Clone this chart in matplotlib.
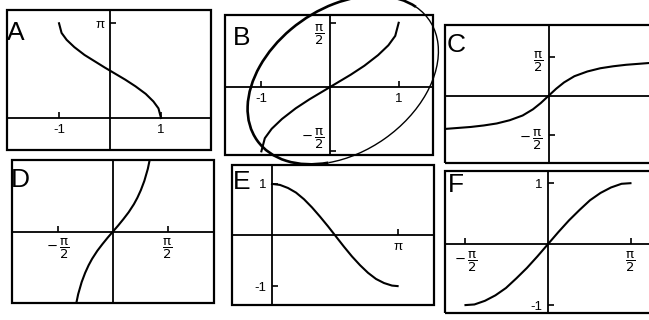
import numpy as np
import matplotlib
matplotlib.use("Agg")
import matplotlib.pyplot as plt
from matplotlib.patches import Rectangle, Arc

plt.rcParams['font.family'] = ['Liberation Sans', 'DejaVu Sans']
plt.rcParams['mathtext.fontset'] = 'dejavusans'

# A: inverse cosine
xa = [-1.0, -0.95, -0.85, -0.7, -0.5, -0.3, -0.1, 0.0, 0.1, 0.3, 0.5, 0.7, 0.85, 0.95, 1.0]
ya = [3.14, 2.82, 2.59, 2.35, 2.09, 1.88, 1.67, 1.57, 1.47, 1.27, 1.05, 0.80, 0.55, 0.32, 0.0]

# B: inverse sine
xb = [-1.0, -0.95, -0.85, -0.7, -0.5, -0.3, -0.1, 0.0, 0.1, 0.3, 0.5, 0.7, 0.85, 0.95, 1.0]
yb = [-1.57, -1.25, -1.02, -0.78, -0.52, -0.30, -0.10, 0.0, 0.10, 0.30, 0.52, 0.78, 1.02, 1.25, 1.57]

# C: inverse tangent
xc = [-4, -3.5, -3, -2.5, -2, -1.5, -1, -0.6, -0.3, 0, 0.3, 0.6, 1, 1.5, 2, 2.5, 3, 3.5, 4]
yc = [-1.33, -1.29, -1.25, -1.19, -1.11, -0.98, -0.79, -0.54, -0.29, 0.0,
      0.29, 0.54, 0.79, 0.98, 1.11, 1.19, 1.25, 1.29, 1.33]

# D: tangent
xd = [-1.06, -1.0, -0.9, -0.8, -0.7, -0.6, -0.45, -0.3, -0.15, 0.0,
      0.15, 0.3, 0.45, 0.6, 0.7, 0.8, 0.9, 1.0, 1.06]
yd = [-1.81, -1.56, -1.26, -1.03, -0.84, -0.68, -0.48, -0.31, -0.15, 0.0,
      0.15, 0.31, 0.48, 0.68, 0.84, 1.03, 1.26, 1.56, 1.81]

# E: cosine
xe = [0, 0.2, 0.4, 0.6, 0.8, 1.0, 1.2, 1.4, 1.57, 1.8, 2.0, 2.2, 2.4, 2.6, 2.8, 3.0, 3.14]
ye = [1.0, 0.98, 0.92, 0.83, 0.70, 0.54, 0.36, 0.17, 0.0, -0.23, -0.42, -0.59,
      -0.74, -0.86, -0.94, -0.99, -1.0]

# F: sine
xf = [-1.57, -1.4, -1.2, -1.0, -0.8, -0.6, -0.4, -0.2, 0.0, 0.2, 0.4, 0.6, 0.8, 1.0, 1.2, 1.4, 1.57]
yf = [-1.0, -0.99, -0.93, -0.84, -0.72, -0.56, -0.39, -0.2, 0.0, 0.2, 0.39, 0.56, 0.72,
      0.84, 0.93, 0.99, 1.0]

PI = np.pi
HP = r'$\dfrac{\mathrm{\pi}}{2}$'
MHP = r'$-\,\dfrac{\mathrm{\pi}}{2}$'

W, H = 649, 320
fig = plt.figure(figsize=(W / 100, H / 100), dpi=100)
fig.patch.set_facecolor('white')


def panel(box, x, y, xlim, ylim, xt, xtl, yt, ytl, letter, lpos):
    x0, y0, x1, y1 = box
    ax = fig.add_axes([x0 / W, 1 - y1 / H, (x1 - x0) / W, (y1 - y0) / H])
    ax.plot(x, y, color='black', lw=1.5, zorder=3)
    ax.set_xlim(*xlim)
    ax.set_ylim(*ylim)
    for s in ['top', 'right']:
        ax.spines[s].set_visible(False)
    for s in ['left', 'bottom']:
        ax.spines[s].set_position(('data', 0))
        ax.spines[s].set_linewidth(1.3)
    ax.add_patch(Rectangle((0, 0), 1, 1, transform=ax.transAxes, fill=False,
                           lw=1.6, ec='black', clip_on=False, zorder=4))
    ax.set_xticks(xt)
    ax.set_xticklabels(xtl)
    ax.set_yticks(yt)
    ax.set_yticklabels(ytl)
    ax.tick_params(direction='in', length=4, width=1.2, labelsize=9.5, pad=4)
    fig.text(lpos[0] / W, 1 - lpos[1] / H, letter, fontsize=19,
             ha='left', va='baseline')
    return ax


panel((7, 10, 211, 150), xa, ya, (-2.02, 1.98), (-1.06, 3.58),
      [-1, 1], ['-1', '1'], [PI], ['π'], 'A', (7, 40))
axb = panel((225, 15, 433, 155), xb, yb, (-1.53, 1.50), (-1.66, 1.76),
            [-1, 1], ['-1', '1'], [-PI / 2, PI / 2], [MHP, HP], 'B', (233, 45))
# keep the B labels inside the frame
lo, hi = axb.get_yticklabels()
lo.set_verticalalignment('bottom')
hi.set_verticalalignment('top')
panel((445, 25, 652, 163), xc, yc, (-4.0, 4.0), (-2.7, 2.85),
      [], [], [-PI / 2, PI / 2], [MHP, HP], 'C', (447, 52))
panel((12, 160, 214, 303), xd, yd, (-2.9, 2.9), (-1.78, 1.78),
      [-PI / 2, PI / 2], [MHP, HP], [], [], 'D', (11, 187))
panel((232, 165, 434, 305), xe, ye, (-1.0, 4.05), (-1.37, 1.37),
      [PI], ['π'], [-1, 1], ['-1', '1'], 'E', (233, 189))
panel((445, 171, 652, 313), xf, yf, (-1.96, 1.98), (-1.13, 1.2),
      [-PI / 2, PI / 2], [MHP, HP], [-1, 1], ['-1', '1'], 'F', (448, 192))

# pen loop drawn around panel B
cx, cy = 343 / 100, (H - 80) / 100
fig.add_artist(Arc((cx, cy), 2.10, 1.44, angle=35, theta1=10, theta2=225,
                   transform=fig.dpi_scale_trans, lw=1.9, color='black', zorder=10))
fig.add_artist(Arc((cx, cy), 2.10, 1.44, angle=35, theta1=225, theta2=370,
                   transform=fig.dpi_scale_trans, lw=1.0, color='black', zorder=10))

fig.savefig('out.png', dpi=100)
